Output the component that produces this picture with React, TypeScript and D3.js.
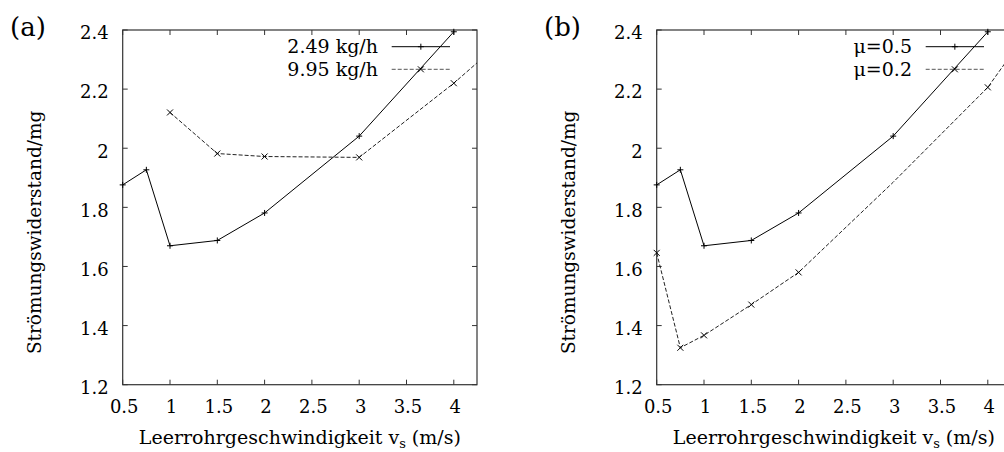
import React from "react";
import * as d3 from "d3";

// ---- data ----
const xTicks = [0.5, 1, 1.5, 2, 2.5, 3, 3.5, 4];
const yTicks = [1.2, 1.4, 1.6, 1.8, 2.0, 2.2, 2.4];

const seriesA1X = [0.5, 0.75, 1, 1.5, 2, 3, 4];
const seriesA1Y = [1.876, 1.927, 1.67, 1.688, 1.781, 2.041, 2.394];
const seriesA2X = [1, 1.5, 2, 3, 4, 4.5];
const seriesA2Y = [2.121, 1.982, 1.972, 1.969, 2.22, 2.36];

const seriesB1X = [0.5, 0.75, 1, 1.5, 2, 3, 4];
const seriesB1Y = [1.876, 1.927, 1.67, 1.688, 1.781, 2.041, 2.394];
const seriesB2X = [0.5, 0.75, 1, 1.5, 2, 3, 4, 4.5];
const seriesB2Y = [1.646, 1.325, 1.367, 1.471, 1.58, 1.885, 2.206, 2.43];
const seriesB2Marked = [true, true, true, true, true, false, true, true];

const legendA = ["2.49 kg/h", "9.95 kg/h"];
const legendB = ["\u03bc=0.5", "\u03bc=0.2"];
const panelLabels = ["(a)", "(b)"];
const yLabel = "Strömungswiderstand/mg";

const FONT = "DejaVu Serif";
const W = 1004;
const H = 452;
const plotW = 354.3;
const plotH = 354.7;
const top = 30;
const xDomain = [0.5, 0.5 + plotW / 94.6];

type Series = { xs: number[]; ys: number[]; marker: "plus" | "cross"; dashed: boolean; marked?: boolean[] };

function Marker({ x, y, kind }: { x: number; y: number; kind: "plus" | "cross" }) {
  const s = 3;
  if (kind === "plus") {
    return <path d={`M${x - s},${y}H${x + s}M${x},${y - s}V${y + s}`} stroke="#000" strokeWidth={1} />;
  }
  return <path d={`M${x - s},${y - s}L${x + s},${y + s}M${x - s},${y + s}L${x + s},${y - s}`} stroke="#000" strokeWidth={1} />;
}

function Panel({ left, id, label, series, legend }: { left: number; id: string; label: string; series: Series[]; legend: string[] }) {
  const x = d3.scaleLinear().domain(xDomain).range([left, left + plotW]);
  const y = d3.scaleLinear().domain([1.2, 2.4]).range([top + plotH, top]);
  const bottom = top + plotH;
  const right = left + plotW;
  const line = d3.line<[number, number]>().x((d) => x(d[0])).y((d) => y(d[1]));
  const legRowY = [46.7, 69.3];
  const legTextX = right - 99;
  const legLineX0 = right - 85.3;
  const legLineX1 = right - 27;
  const axisColor = "#333";
  const tf = (size: number) => ({ fontFamily: FONT, fontSize: size + "px" });
  return (
    <g>
      <defs>
        <clipPath id={id}>
          <rect x={left} y={top} width={plotW} height={plotH} />
        </clipPath>
      </defs>
      <text x={left - 112.7} y={36} style={tf(26)}>{label}</text>
      <text
        transform={`translate(${left - 81.5},${top + plotH / 2 + 25}) rotate(-90)`}
        textAnchor="middle"
        style={tf(18.5)}
      >
        {yLabel}
      </text>
      <text x={(left + right) / 2} y={444} textAnchor="middle" style={tf(19)}>
        Leerrohrgeschwindigkeit v
        <tspan style={{ fontSize: "13px" }} dy={4}>s</tspan>
        <tspan dy={-4}> (m/s)</tspan>
      </text>
      {xTicks.map((t) => (
        <g key={"xt" + t}>
          <line x1={x(t)} x2={x(t)} y1={bottom} y2={bottom - 5} stroke={axisColor} />
          <line x1={x(t)} x2={x(t)} y1={top} y2={top + 5} stroke={axisColor} />
          <text x={x(t) + 1.5} y={bottom + 28.7} textAnchor="middle" style={tf(18)}>
            {String(t)}
          </text>
        </g>
      ))}
      {yTicks.map((t) => (
        <g key={"yt" + t}>
          <line x1={left} x2={left + 5} y1={y(t)} y2={y(t)} stroke={axisColor} />
          <line x1={right} x2={right - 5} y1={y(t)} y2={y(t)} stroke={axisColor} />
          <text x={left - 14} y={y(t) + 9.3} textAnchor="end" style={tf(18)}>
            {d3.format("")(t)}
          </text>
        </g>
      ))}
      <rect x={left} y={top} width={plotW} height={plotH} fill="none" stroke={axisColor} strokeWidth={1.2} />
      <g clipPath={`url(#${id})`}>
        {series.map((s, i) => (
          <path
            key={"l" + i}
            d={line(s.xs.map((v, j) => [v, s.ys[j]] as [number, number])) || ""}
            fill="none"
            stroke={s.dashed ? "#222" : "#000"}
            strokeWidth={1}
            strokeDasharray={s.dashed ? "4,2" : undefined}
          />
        ))}
      </g>
      {series.map((s, i) =>
        s.xs.map((v, j) =>
          (s.marked ? s.marked[j] : true) && s.ys[j] <= 2.4 && v <= xDomain[1] ? (
            <Marker key={"m" + i + "_" + j} x={x(v)} y={y(s.ys[j])} kind={s.marker} />
          ) : null
        )
      )}
      {legend.map((txt, i) => (
        <g key={"lg" + i}>
          <text x={legTextX} y={legRowY[i] + 6.5} textAnchor="end" style={tf(19)}>{txt}</text>
          <line
            x1={legLineX0}
            x2={legLineX1}
            y1={legRowY[i]}
            y2={legRowY[i]}
            stroke={series[i].dashed ? "#555" : "#000"}
            strokeWidth={1}
            strokeDasharray={series[i].dashed ? "4,2" : undefined}
          />
          <Marker x={(legLineX0 + legLineX1) / 2} y={legRowY[i]} kind={series[i].marker} />
        </g>
      ))}
    </g>
  );
}

export default function App() {
  const seriesA: Series[] = [
    { xs: seriesA1X, ys: seriesA1Y, marker: "plus", dashed: false },
    { xs: seriesA2X, ys: seriesA2Y, marker: "cross", dashed: true },
  ];
  const seriesB: Series[] = [
    { xs: seriesB1X, ys: seriesB1Y, marker: "plus", dashed: false },
    { xs: seriesB2X, ys: seriesB2Y, marker: "cross", dashed: true, marked: seriesB2Marked },
  ];
  return (
    <svg
      width={W}
      height={H}
      style={{ position: "absolute", left: 0, top: 0, background: "#fff", fontFamily: FONT }}
    >
      <rect x={0} y={0} width={W} height={H} fill="#fff" />
      <Panel left={122.7} id="clipA" label={panelLabels[0]} series={seriesA} legend={legendA} />
      <Panel left={656.7} id="clipB" label={panelLabels[1]} series={seriesB} legend={legendB} />
    </svg>
  );
}
